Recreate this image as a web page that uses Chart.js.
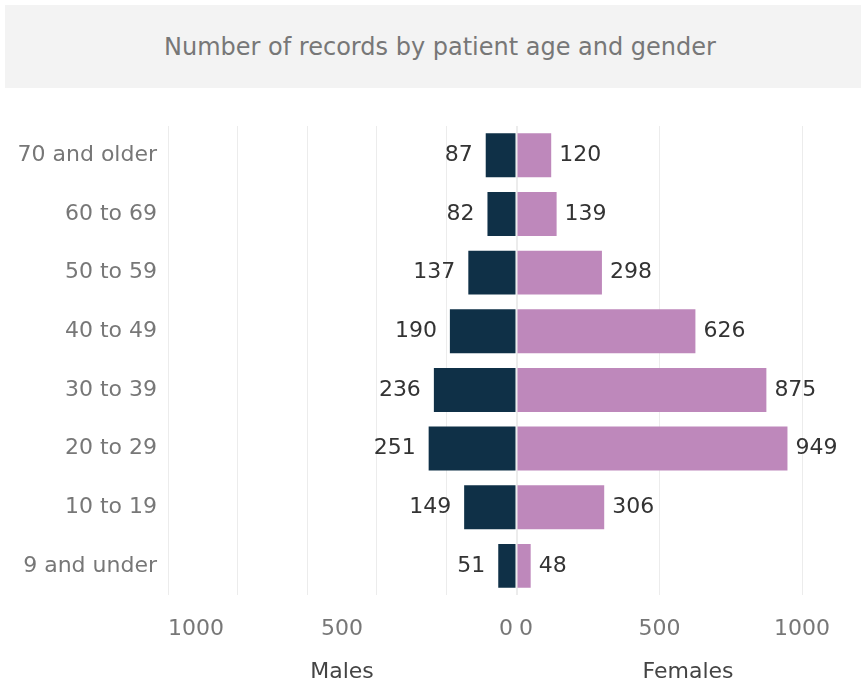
<!DOCTYPE html>
<html><head><meta charset="utf-8">
<script src="https://cdn.jsdelivr.net/npm/chart.js@4"></script>
<style>
html,body{margin:0;padding:0;background:#fff;width:861px;height:685px;overflow:hidden;position:relative;font-family:'DejaVu Sans',sans-serif}
#title{position:absolute;left:5px;top:5px;width:856px;height:83px;background:#f3f3f3;color:#777;font-size:24px;display:flex;align-items:center;justify-content:center;padding-left:14px;box-sizing:border-box}
#cl{position:absolute;left:0;top:95px}
#cr{position:absolute;left:505px;top:95px}
</style></head>
<body>
<div id="title">Number of records by patient age and gender</div>
<canvas id="cl" width="530" height="590"></canvas>
<canvas id="cr" width="356" height="590"></canvas>
<script>
const categories = ['70 and older','60 to 69','50 to 59','40 to 49','30 to 39','20 to 29','10 to 19','9 and under'];
const males = [87, 82, 137, 190, 236, 251, 149, 51];
const females = [120, 139, 298, 626, 875, 949, 306, 48];
const maleTickLabels = [0, 500, 1000];
const femaleTickLabels = [0, 500, 1000];

const FONT = "'DejaVu Sans', sans-serif";
const FS = 22;
const GRID = '#ececec';
const NONE = 'rgba(0,0,0,0)';

const valueLabels = {
  id: 'valueLabels',
  afterDatasetsDraw(chart, args, opts) {
    const ctx = chart.ctx;
    const meta = chart.getDatasetMeta(0);
    const ds = chart.data.datasets[0];
    ctx.save();
    ctx.font = FS + 'px ' + FONT;
    ctx.fillStyle = '#333';
    ctx.textBaseline = 'middle';
    meta.data.forEach((bar, i) => {
      const v = ds.data[i];
      if (opts.side === 'left') {
        ctx.textAlign = 'right';
        ctx.fillText(String(v), bar.x - 13, bar.y);
      } else {
        ctx.textAlign = 'left';
        ctx.fillText(String(v), bar.x + 8, bar.y);
      }
    });
    ctx.restore();
  }
};

// align edge tick labels inward (works for a reversed axis too)
const edgeAlign = {
  id: 'edgeAlign',
  beforeDraw(chart, args, opts) {
    const scale = chart.scales.x;
    const items = scale.getLabelItems();
    items.forEach(it => {
      const m = opts.map[String(it.label)];
      if (m) {
        it.options.textAlign = m.align;
        if (m.dx) it.options.translation = [it.options.translation[0] + m.dx, it.options.translation[1]];
      }
    });
  }
};

function xAxis(opts) {
  return {
    type: 'linear',
    reverse: opts.reverse,
    min: 0,
    max: opts.max,
    border: {display: false},
    grid: {
      color: c => (c.tick && c.tick.value % opts.gridStep === 0) ? GRID : NONE,
      drawTicks: true,
      tickLength: 21,
      tickColor: NONE,
      lineWidth: 1
    },
    ticks: {
      stepSize: 100,
      autoSkip: false,
      maxRotation: 0,
      minRotation: 0,
      align: 'inner',
      padding: 0,
      color: '#777',
      font: {family: FONT, size: FS},
      callback: v => opts.labels.includes(v) ? String(v) : ''
    },
    title: {
      display: true,
      text: opts.title,
      color: '#444',
      font: {family: FONT, size: FS},
      padding: {top: 16, bottom: 0}
    }
  };
}

new Chart(document.getElementById('cl'), {
  type: 'bar',
  data: {labels: categories, datasets: [{data: males, backgroundColor: '#0f3047', categoryPercentage: 1, barPercentage: 0.75}]},
  options: {
    indexAxis: 'y', responsive: false, animation: false,
    layout: {padding: {top: 31, bottom: 0, left: 0, right: 14}},
    plugins: {legend: {display: false}, tooltip: {enabled: false}, valueLabels: {side: 'left'},
      edgeAlign: {map: {'0': {align: 'right', dx: -3}, '1000': {align: 'left'}}}},
    scales: {
      x: xAxis({reverse: true, max: 1000, gridStep: 200, labels: maleTickLabels, title: 'Males'}),
      y: {
        grid: {display: false, drawTicks: false},
        border: {display: false},
        ticks: {padding: 11, color: '#777', font: {family: FONT, size: FS}},
        afterFit: s => { s.width = 168; }
      }
    }
  },
  plugins: [valueLabels, edgeAlign]
});

new Chart(document.getElementById('cr'), {
  type: 'bar',
  data: {labels: categories, datasets: [{data: females, backgroundColor: '#be88bb', categoryPercentage: 1, barPercentage: 0.75}]},
  options: {
    indexAxis: 'y', responsive: false, animation: false,
    layout: {padding: {top: 31, bottom: 0, left: 12, right: 2}},
    plugins: {legend: {display: false}, tooltip: {enabled: false}, valueLabels: {side: 'right'},
      edgeAlign: {map: {'0': {align: 'left', dx: 2}, '1000': {align: 'center'}}}},
    scales: {
      x: xAxis({reverse: false, max: 1200, gridStep: 500, labels: femaleTickLabels, title: 'Females'}),
      y: {display: false}
    }
  },
  plugins: [valueLabels, edgeAlign]
});
</script>
</body></html>
